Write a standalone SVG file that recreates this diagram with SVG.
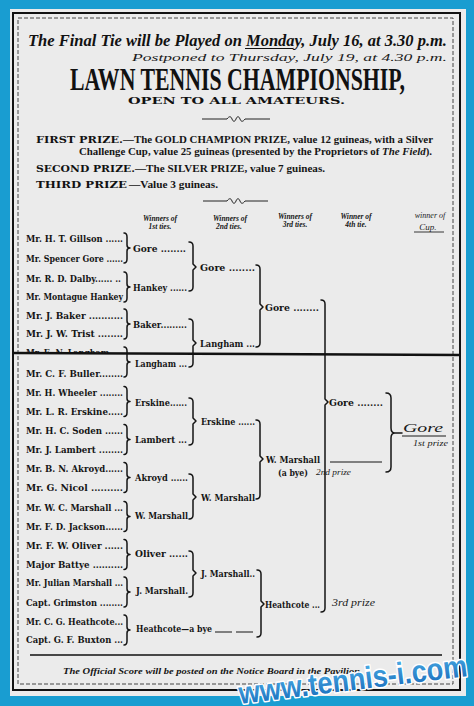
<svg xmlns="http://www.w3.org/2000/svg" width="474" height="706" viewBox="0 0 474 706">
<defs>
<style>
.n{font-family:"DejaVu Serif",serif;font-weight:bold;font-size:9.5px;fill:#151515}
.h{font-family:"Liberation Serif",serif;font-style:italic;font-weight:bold;font-size:7.5px;fill:#151515;text-anchor:middle}
.w{font-family:"Liberation Serif",serif;font-style:italic;fill:#1a1a1a}
.c{fill:none;stroke:#151515;stroke-width:1.5;stroke-linecap:round;stroke-linejoin:round}
.p{font-family:"DejaVu Serif",serif;font-weight:bold;font-size:10px;fill:#111}
.t{font-family:"Liberation Serif",serif;font-weight:bold;font-size:10px;fill:#151515}
</style>
<path id="br" d="M0,-15 Q3,-15 3,-11 V-3 Q3,0 6,0 Q3,0 3,3 V11 Q3,15 0,15"/>
<clipPath id="fold"><rect x="0" y="0" width="474" height="353"/></clipPath>
<linearGradient id="wm" x1="0" y1="0" x2="0" y2="1"><stop offset="0" stop-color="#4fb3ea"/><stop offset="1" stop-color="#1668b8"/></linearGradient>
</defs>
<rect width="474" height="706" fill="#199dd1"/>
<rect x="10" y="9" width="456" height="687" fill="#ebebeb"/>
<rect x="13" y="13" width="447" height="677" fill="none" stroke="#111" stroke-width="2"/>
<rect x="18" y="18" width="435" height="666" fill="none" stroke="#444" stroke-width="1" stroke-dasharray="4 2"/>

<g id="header">
<text x="28" y="46" font-family="Liberation Serif, serif" font-weight="bold" font-style="italic" font-size="16.5" fill="#111" textLength="419" lengthAdjust="spacingAndGlyphs">The Final Tie will be Played on Monday, July 16, at 3.30 p.m.</text>
<line x1="245" y1="48.5" x2="293" y2="48.5" stroke="#111" stroke-width="1.2"/>
<text class="w" x="132" y="61" font-size="10" textLength="315" lengthAdjust="spacingAndGlyphs">Postponed to Thursday, July 19, at 4.30 p.m.</text>
<text x="70" y="90" font-family="Liberation Serif, serif" font-weight="bold" font-size="31" fill="#111" textLength="335" lengthAdjust="spacingAndGlyphs">LAWN TENNIS CHAMPIONSHIP,</text>
<text x="128" y="104" font-family="DejaVu Serif, serif" font-weight="bold" font-size="9" fill="#111" textLength="217" lengthAdjust="spacingAndGlyphs">OPEN TO ALL AMATEURS.</text>
</g>

<g id="ornaments" fill="none" stroke="#222" stroke-width="1">
<path d="M202,119 H227 M245,119 H270 M227,119 c2,-3 4,-3 5,0 c1,3 3,3 4,0 c1,-3 3,-3 4,0 c1,3 3,3 5,0"/>
<path d="M203,201 H227 M245,201 H268 M227,201 c2,-3 4,-3 5,0 c1,3 3,3 4,0 c1,-3 3,-3 4,0 c1,3 3,3 5,0"/>
</g>

<g id="prizes">
<text class="p" x="36" y="143" textLength="87" lengthAdjust="spacingAndGlyphs">FIRST PRIZE.</text>
<text class="t" x="123" y="143" textLength="310" lengthAdjust="spacingAndGlyphs">—The GOLD CHAMPION PRIZE, value 12 guineas, with a Silver</text>
<text class="t" x="79" y="155" textLength="353" lengthAdjust="spacingAndGlyphs">Challenge Cup, value 25 guineas (presented by the Proprietors of <tspan font-style="italic">The Field</tspan>).</text>
<text class="p" x="36" y="172" textLength="99" lengthAdjust="spacingAndGlyphs">SECOND PRIZE.</text>
<text class="t" x="135" y="172" textLength="190" lengthAdjust="spacingAndGlyphs">—The SILVER PRIZE, value 7 guineas.</text>
<text class="p" x="36" y="188" textLength="91" lengthAdjust="spacingAndGlyphs">THIRD PRIZE</text>
<text class="t" x="129" y="188" textLength="89" lengthAdjust="spacingAndGlyphs">—Value 3 guineas.</text>
</g>

<g id="col-headers">
<text class="h" x="160" y="221">Winners of</text><text class="h" x="160" y="229">1st ties.</text>
<text class="h" x="230" y="221">Winners of</text><text class="h" x="229" y="229">2nd ties.</text>
<text class="h" x="295" y="219">Winners of</text><text class="h" x="295" y="227">3rd ties.</text>
<text class="h" x="356" y="219">Winner of</text><text class="h" x="356" y="227">4th tie.</text>
<text class="w" x="430" y="218" font-size="8" text-anchor="middle">winner of</text>
<text class="w" x="428" y="230" font-size="9" text-anchor="middle">Cup.</text>
<line x1="414" y1="232" x2="444" y2="232" stroke="#222" stroke-width="0.9"/>
</g>

<g id="players">
<g id="p1"><text class="n" x="26" y="241.5" textLength="97" lengthAdjust="spacingAndGlyphs">Mr. H. T. Gillson ......</text></g>
<g id="p2"><text class="n" x="26" y="261.5" textLength="97" lengthAdjust="spacingAndGlyphs">Mr. Spencer Gore ......</text></g>
<g id="p3"><text class="n" x="26" y="281.5" textLength="95" lengthAdjust="spacingAndGlyphs">Mr. R. D. Dalby...... ..</text></g>
<g id="p4"><text class="n" x="26" y="299.5" textLength="97" lengthAdjust="spacingAndGlyphs">Mr. Montague Hankey</text></g>
<g id="p5"><text class="n" x="26" y="318.5" textLength="97" lengthAdjust="spacingAndGlyphs">Mr. J. Baker ...........</text></g>
<g id="p6"><text class="n" x="26" y="336.5" textLength="97" lengthAdjust="spacingAndGlyphs">Mr. J. W. Trist ........</text></g>
<g id="p7"><text class="n" x="26" y="356" textLength="97" lengthAdjust="spacingAndGlyphs" clip-path="url(#fold)">Mr. E. N. Langham ....</text></g>
<g id="p8"><text class="n" x="26" y="376.5" textLength="97" lengthAdjust="spacingAndGlyphs">Mr. C. F. Buller........</text></g>
<g id="p9"><text class="n" x="26" y="395.5" textLength="97" lengthAdjust="spacingAndGlyphs">Mr. H. Wheeler ........</text></g>
<g id="p10"><text class="n" x="26" y="414.5" textLength="97" lengthAdjust="spacingAndGlyphs">Mr. L. R. Erskine.....</text></g>
<g id="p11"><text class="n" x="26" y="433.5" textLength="97" lengthAdjust="spacingAndGlyphs">Mr. H. C. Soden ......</text></g>
<g id="p12"><text class="n" x="26" y="452.5" textLength="97" lengthAdjust="spacingAndGlyphs">Mr. J. Lambert ........</text></g>
<g id="p13"><text class="n" x="26" y="471.5" textLength="97" lengthAdjust="spacingAndGlyphs">Mr. B. N. Akroyd......</text></g>
<g id="p14"><text class="n" x="26" y="490.5" textLength="97" lengthAdjust="spacingAndGlyphs">Mr. G. Nicol ..........</text></g>
<g id="p15"><text class="n" x="26" y="510.5" textLength="97" lengthAdjust="spacingAndGlyphs">Mr. W. C. Marshall ...</text></g>
<g id="p16"><text class="n" x="26" y="529.5" textLength="97" lengthAdjust="spacingAndGlyphs">Mr. F. D. Jackson......</text></g>
<g id="p17"><text class="n" x="26" y="548.5" textLength="97" lengthAdjust="spacingAndGlyphs">Mr. F. W. Oliver ......</text></g>
<g id="p18"><text class="n" x="26" y="567.5" textLength="97" lengthAdjust="spacingAndGlyphs">Major Battye ..........</text></g>
<g id="p19"><text class="n" x="26" y="585.5" textLength="97" lengthAdjust="spacingAndGlyphs">Mr. Julian Marshall ...</text></g>
<g id="p20"><text class="n" x="26" y="605.5" textLength="97" lengthAdjust="spacingAndGlyphs">Capt. Grimston ........</text></g>
<g id="p21"><text class="n" x="26" y="624.5" textLength="97" lengthAdjust="spacingAndGlyphs">Mr. C. G. Heathcote...</text></g>
<g id="p22"><text class="n" x="26" y="642.5" textLength="97" lengthAdjust="spacingAndGlyphs">Capt. G. F. Buxton ...</text></g>
</g>

<g id="round1">
<g id="r1-1"><text class="n" x="133" y="251.5" textLength="53" lengthAdjust="spacingAndGlyphs">Gore ........</text></g>
<g id="r1-2"><text class="n" x="133" y="290.5" textLength="54" lengthAdjust="spacingAndGlyphs">Hankey ......</text></g>
<g id="r1-3"><text class="n" x="133" y="327.5" textLength="54" lengthAdjust="spacingAndGlyphs">Baker.........</text></g>
<g id="r1-4"><text class="n" x="135" y="366.5" textLength="52" lengthAdjust="spacingAndGlyphs">Langham ...</text></g>
<g id="r1-5"><text class="n" x="135" y="405.5" textLength="52" lengthAdjust="spacingAndGlyphs">Erskine......</text></g>
<g id="r1-6"><text class="n" x="135" y="442.5" textLength="52" lengthAdjust="spacingAndGlyphs">Lambert ...</text></g>
<g id="r1-7"><text class="n" x="135" y="480.5" textLength="53" lengthAdjust="spacingAndGlyphs">Akroyd ......</text></g>
<g id="r1-8"><text class="n" x="135" y="518.5" textLength="53" lengthAdjust="spacingAndGlyphs">W. Marshall</text></g>
<g id="r1-9"><text class="n" x="135" y="556.5" textLength="53" lengthAdjust="spacingAndGlyphs">Oliver ......</text></g>
<g id="r1-10"><text class="n" x="136" y="593.5" textLength="52" lengthAdjust="spacingAndGlyphs">J. Marshall.</text></g>
<g id="r1-11"><text class="n" x="136" y="631.5" textLength="76" lengthAdjust="spacingAndGlyphs">Heathcote—a bye</text>
<path d="M215,632 H232 M236,632 H253" stroke="#151515" stroke-width="1.2"/></g>
</g>

<g id="round2">
<g id="r2-1"><text class="n" x="200" y="270.5" textLength="55" lengthAdjust="spacingAndGlyphs">Gore ........</text></g>
<g id="r2-2"><text class="n" x="200" y="346.5" textLength="55" lengthAdjust="spacingAndGlyphs">Langham ...</text></g>
<g id="r2-3"><text class="n" x="201" y="424.5" textLength="54" lengthAdjust="spacingAndGlyphs">Erskine ......</text></g>
<g id="r2-4"><text class="n" x="201" y="500.5" textLength="54" lengthAdjust="spacingAndGlyphs">W. Marshall</text></g>
<g id="r2-5"><text class="n" x="201" y="576.5" textLength="54" lengthAdjust="spacingAndGlyphs">J. Marshall..</text></g>
</g>

<g id="round3">
<g id="r3-1"><text class="n" x="265" y="310.5" textLength="54" lengthAdjust="spacingAndGlyphs">Gore ........</text></g>
<g id="r3-2"><text class="n" x="266" y="462.5" textLength="54" lengthAdjust="spacingAndGlyphs">W. Marshall</text>
<text class="n" x="278" y="475.5" textLength="30" lengthAdjust="spacingAndGlyphs">(a bye)</text></g>
<g id="r3-3"><text class="n" x="265" y="607.5" textLength="55" lengthAdjust="spacingAndGlyphs">Heathcote ...</text></g>
</g>

<g id="round4">
<g id="r4-1"><text class="n" x="329" y="405.5" textLength="54" lengthAdjust="spacingAndGlyphs">Gore ........</text></g>
<g id="r4-2"><line x1="330" y1="462" x2="382" y2="462" stroke="#151515" stroke-width="1.2"/></g>
</g>

<g id="cup">
<text class="w" x="403" y="432" font-size="13" textLength="40" lengthAdjust="spacingAndGlyphs">Gore</text>
<line x1="402" y1="436" x2="446" y2="436" stroke="#1a1a1a" stroke-width="1"/>
<text class="w" x="413" y="446" font-size="9" textLength="35" lengthAdjust="spacingAndGlyphs">1st prize</text>
</g>
<g id="second-prize"><text class="w" x="316" y="475" font-size="9" textLength="35" lengthAdjust="spacingAndGlyphs">2nd prize</text></g>
<g id="third-prize"><text class="w" x="332" y="606" font-size="9.5" textLength="43" lengthAdjust="spacingAndGlyphs">3rd prize</text></g>

<g id="connectors">
<use href="#br" class="c" x="124" y="248"/>
<use href="#br" class="c" x="124" y="287"/>
<use href="#br" class="c" x="124" y="324"/>
<use href="#br" class="c" x="124" y="362"/>
<use href="#br" class="c" x="124" y="401.5"/>
<use href="#br" class="c" x="124" y="439.5"/>
<use href="#br" class="c" x="124" y="477.5"/>
<use href="#br" class="c" x="124" y="516.5"/>
<use href="#br" class="c" x="124" y="554.5"/>
<use href="#br" class="c" x="124" y="592"/>
<use href="#br" class="c" x="124" y="630"/>
<path class="c" d="M189,242 Q193,242 193,246 V264 L196,267 L193,270 V287 Q193,291 189,291"/>
<path class="c" d="M189,319 Q193,319 193,323 V340 L196,343 L193,346 V363 Q193,367 189,367"/>
<path class="c" d="M189,398 Q193,398 193,402 V418 L196,421 L193,424 V441 Q193,445 189,445"/>
<path class="c" d="M189,474 Q193,474 193,478 V494 L196,497 L193,500 V515 Q193,519 189,519"/>
<path class="c" d="M189,551 Q193,551 193,555 V570 L196,573 L193,576 V593 Q193,597 189,597"/>
<path class="c" d="M256,265 Q260,265 260,269 V304 L263,307 L260,310 V343 Q260,347 256,347"/>
<path class="c" d="M256,420 Q260,420 260,424 V456 L263,459 L260,462 V495 Q260,499 256,499"/>
<path class="c" d="M257,570 Q261,570 261,574 V601 L264,604 L261,607 V633 Q261,637 257,637"/>
<path class="c" d="M321,300 Q325,300 325,304 V399 L328,402 L325,405 V608 Q325,612 321,612"/>
<path class="c" d="M386,393 Q391,393 391,398 V428 Q391,433 395,433 H402 M395,433 Q391,433 391,438 V467 Q391,472 386,472"/>
</g>

<line x1="14" y1="353" x2="461" y2="355" stroke="#111" stroke-width="2.5"/>

<g id="footer">
<line x1="30" y1="655" x2="442" y2="655" stroke="#111" stroke-width="1.5"/>
<text x="63" y="674" font-family="Liberation Serif, serif" font-style="italic" font-weight="bold" font-size="9" fill="#151515" textLength="297" lengthAdjust="spacingAndGlyphs">The Official Score will be posted on the Notice Board in the Pavilion</text>
</g>

<g id="watermark">
<text x="240" y="704" transform="rotate(-7 240 704)" font-family="Liberation Sans, sans-serif" font-weight="bold" font-size="31" fill="url(#wm)" stroke="#fff" stroke-width="3" paint-order="stroke" stroke-linejoin="round" textLength="230" lengthAdjust="spacingAndGlyphs">www.tennis-i.com</text>
</g>
</svg>
